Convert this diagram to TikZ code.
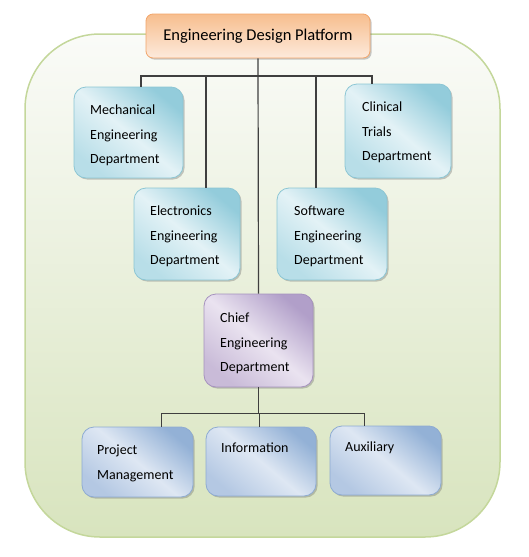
\documentclass[tikz,border=0pt]{standalone}
\usepackage{fontspec}
\setmainfont{Carlito}
\usetikzlibrary{shadows,calc}
\definecolor{outerdraw}{HTML}{C4D79B}
\definecolor{outertop}{HTML}{FAFBF8}
\definecolor{outerbot}{HTML}{D8E4BE}
\definecolor{ordark}{HTML}{F7BE8E}
\definecolor{orlight}{HTML}{FDEADC}
\definecolor{ordraw}{HTML}{F2A56A}
\definecolor{tldark}{HTML}{93CCDB}
\definecolor{tllight}{HTML}{E3F2F6}
\definecolor{tlmid}{HTML}{B8DEE8}
\definecolor{tldraw}{HTML}{8CC6D4}
\definecolor{ppdark}{HTML}{B19FC9}
\definecolor{pplight}{HTML}{EAE3F0}
\definecolor{ppmid}{HTML}{C9BBD8}
\definecolor{ppdraw}{HTML}{A692BE}
\definecolor{bldark}{HTML}{93B1D6}
\definecolor{bllight}{HTML}{DEE7F3}
\definecolor{blmid}{HTML}{B4C8E3}
\definecolor{bldraw}{HTML}{8EABD2}
\definecolor{linec}{HTML}{3F3F3F}
\begin{document}
\begin{tikzpicture}[x=1pt,y=-1pt,
  shadowed/.style={drop shadow={shadow xshift=1.6pt,shadow yshift=-1.6pt,opacity=0.35,fill=black!60}},
  boxbase/.style={inner sep=0pt,rounded corners=12pt,line width=0.8pt,shadowed},
  tealbox/.style={boxbase,draw=tldraw,top color=tldark,bottom color=tlmid,middle color=tllight,shading angle=-40},
  purplebox/.style={boxbase,draw=ppdraw,top color=ppdark,bottom color=ppmid,middle color=pplight,shading angle=-40},
  bluebox/.style={boxbase,draw=bldraw,top color=bldark,bottom color=blmid,middle color=bllight,shading angle=-40},
  label/.style={anchor=north west,inner sep=0pt,align=left,font=\fontsize{14}{24.5}\selectfont,text=black},
  conn/.style={draw=linec,line width=1.2pt}
]
\useasboundingbox (0,0) rectangle (528,557);
% outer container
\draw[draw=outerdraw,line width=1.5pt,top color=outertop,bottom color=outerbot,rounded corners=75pt]
  (25,34) rectangle (500,537);
% top node
\node[inner sep=0pt,rounded corners=7pt,line width=0.8pt,draw=ordraw,top color=ordark,bottom color=orlight,shadowed,
  minimum width=224pt,minimum height=44pt,font=\fontsize{16.5}{19}\selectfont] (edp) at (258,36) {Engineering Design Platform};
% boxes
\node[tealbox,minimum width=109pt,minimum height=91pt] (mech) at (128.5,132.5) {};
\node[tealbox,minimum width=106pt,minimum height=94pt] (clin) at (398,131) {};
\node[tealbox,minimum width=106pt,minimum height=92pt] (elec) at (187,234) {};
\node[tealbox,minimum width=110pt,minimum height=92pt] (soft) at (332,234) {};
\node[purplebox,minimum width=109pt,minimum height=93pt] (chief) at (258.5,340.5) {};
\node[bluebox,minimum width=111pt,minimum height=70pt] (proj) at (137.5,462) {};
\node[bluebox,minimum width=110pt,minimum height=69pt] (info) at (261,461.5) {};
\node[bluebox,minimum width=111pt,minimum height=69pt] (aux) at (385.5,460.5) {};
% texts
\node[label] (tmech) at (90,105) {Mechanical\\Engineering\\Department};
\node[label] (tclin) at (362,102) {Clinical\\Trials\\Department};
\node[label] (telec) at (150,206) {Electronics\\Engineering\\Department};
\node[label] (tsoft) at (294,206) {Software\\Engineering\\Department};
\node[label] (tchief) at (220,313) {Chief\\Engineering\\Department};
\node[label] (tproj) at (97,445) {Project\\Management};
\node[label] (tinfo) at (221,443) {Information};
\node[label] (taux) at (345,442) {Auxiliary};
% upper connectors
\coordinate (b1) at (141,76);
\coordinate (b2) at (206,76);
\coordinate (b4) at (316,76);
\coordinate (b5) at (372,76);
\draw[conn] (b1 |- mech.north) -- (b1) -- (b5) -- (b5 |- clin.north);
\draw[conn] (b2) -- (b2 |- elec.north);
\draw[conn] (b4) -- (b4 |- soft.north);
\draw[conn] (edp.south) -- (chief.north);
% lower connectors
\coordinate (c0) at (258,387);
\coordinate (c1) at (161,413);
\coordinate (c2) at (259,413);
\coordinate (c3) at (364,413);
\draw[conn,line width=1pt] (c0 |- chief.south) -- (c0 |- c1);
\draw[conn,line width=1pt] (c1 |- proj.north) -- (c1) -- (c3) -- (c3 |- aux.north);
\draw[conn,line width=1pt] (c2) -- (c2 |- info.north);
\end{tikzpicture}
\end{document}
